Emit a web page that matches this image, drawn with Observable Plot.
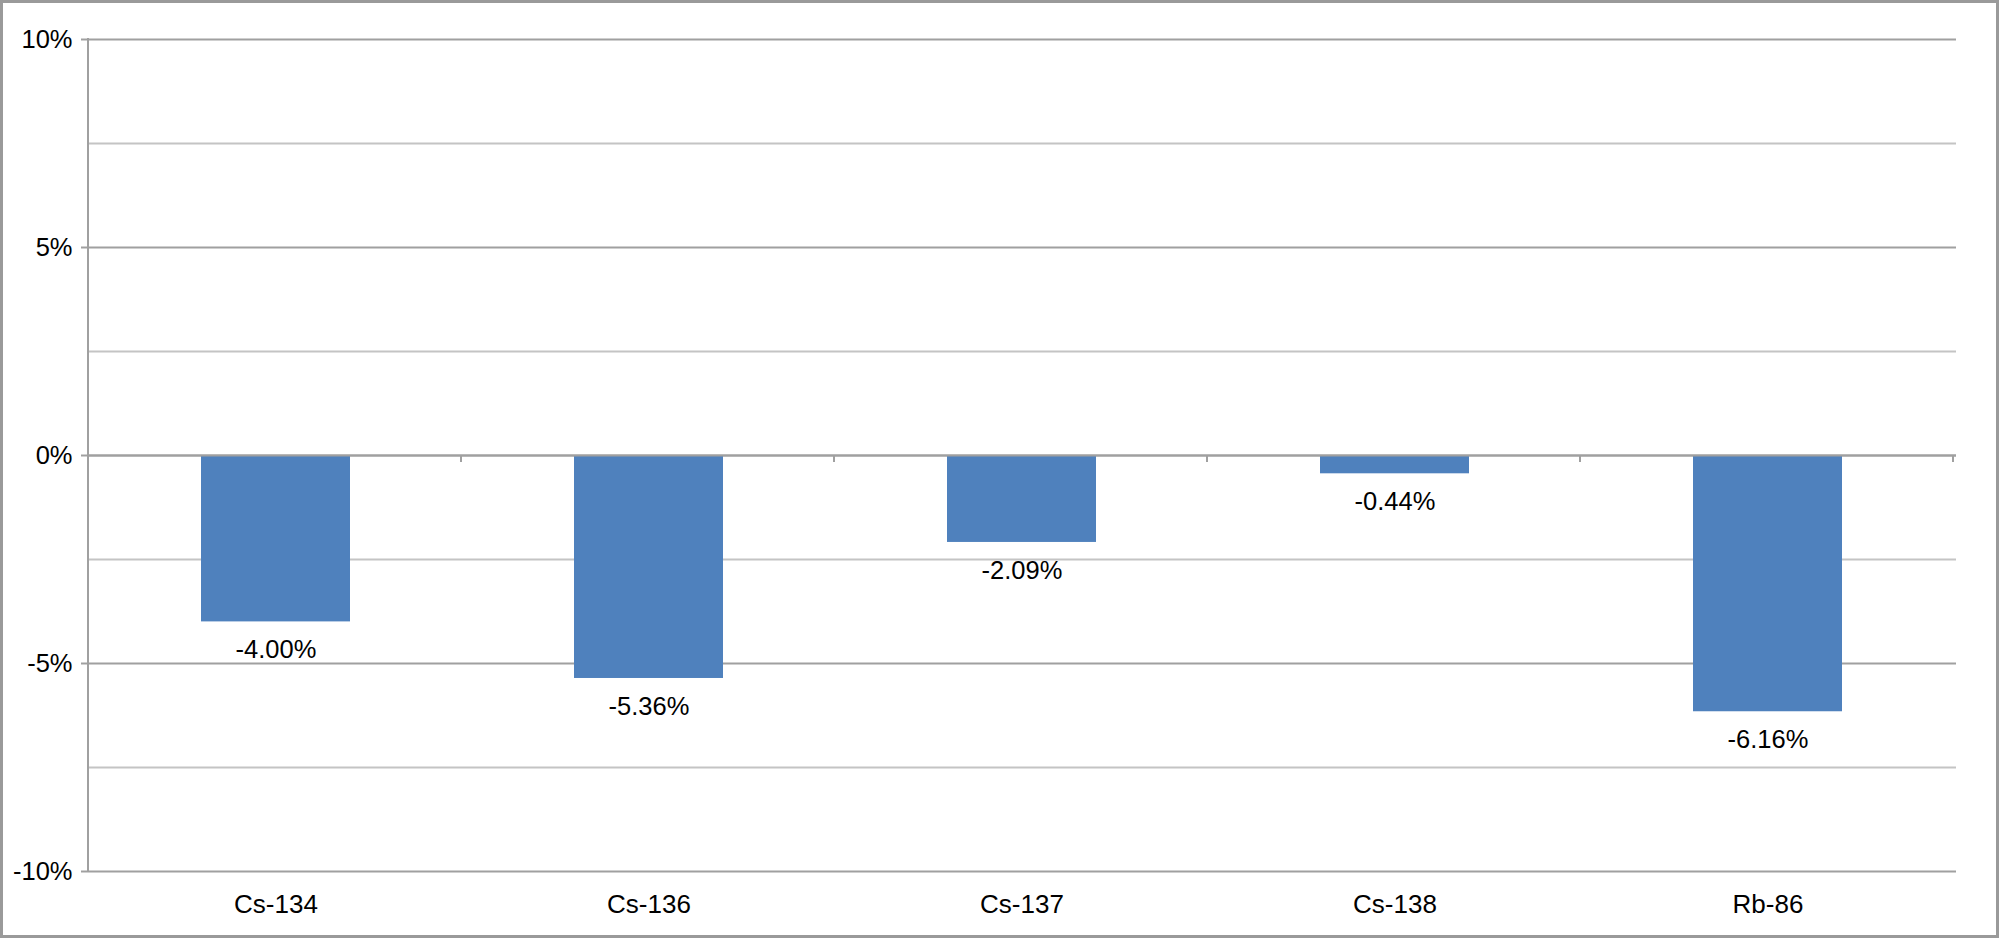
<!DOCTYPE html>
<html>
<head>
<meta charset="utf-8">
<script src="https://cdn.jsdelivr.net/npm/d3@7"></script>
<script src="https://cdn.jsdelivr.net/npm/@observablehq/plot@0.6"></script>
<style>
  html, body { margin: 0; padding: 0; background: #fff; }
  #chart { position: relative; width: 2000px; height: 939px; }
  #chart svg { display: block; }
</style>
</head>
<body>
<div id="chart"></div>
<script>
const isotopes = ["Cs-134", "Cs-136", "Cs-137", "Cs-138", "Rb-86"];
const changes = [-0.0400, -0.0536, -0.0209, -0.0044, -0.0616];
const majorTicks = [-0.10, -0.05, 0, 0.05, 0.10];
const minorTicks = [-0.075, -0.025, 0.025, 0.075];

const data = isotopes.map((name, i) => ({name, value: changes[i]}));
const W = 2000, H = 939;
const font = "'Liberation Sans', Arial, Helvetica, sans-serif";

const chart = Plot.plot({
  width: W,
  height: H,
  marginLeft: 88,
  marginRight: 44,
  marginTop: 39,
  marginBottom: 68,
  style: {fontFamily: font, fontSize: "26px", color: "#000", background: "#fff"},
  x: {domain: isotopes, paddingInner: 0.6, paddingOuter: 0.3, label: null},
  y: {domain: [-0.1, 0.1], label: null},
  marks: [
    Plot.ruleY(minorTicks, {stroke: "#c4c4c4", strokeWidth: 2}),
    Plot.ruleY(majorTicks, {stroke: "#a0a0a0", strokeWidth: 2}),
    Plot.barY(data, {x: "name", y: "value", fill: "#4f81bd"}),
    Plot.ruleY([0], {stroke: "#a0a0a0", strokeWidth: 2}),
    Plot.text(data, {x: "name", y: "value", text: d => (d.value * 100).toFixed(2) + "%", dy: 28, fill: "#000", fontSize: 25.5, style: "letter-spacing: 0.3px"}),
    Plot.axisY({ticks: majorTicks, tickFormat: d => Math.round(d * 100) + "%", tickSize: 7, tickPadding: 9, stroke: "#a0a0a0", strokeWidth: 2, fontSize: 25.5, label: null}),
    Plot.axisX({tickSize: 0, tickPadding: 23, fontSize: 26, label: null})
  ]
});

document.getElementById("chart").appendChild(chart);

// decorations derived from the plot's own scales
const xs = chart.scale("x");
const ys = chart.scale("y");
const svg = d3.select(chart);
const y0 = ys.apply(0);
const yTop = ys.apply(0.1), yBot = ys.apply(-0.1);
const x0 = xs.range[0];
const boundaries = d3.range(isotopes.length + 1).map(i => x0 + i * xs.step);
// left axis line
svg.append("line").attr("x1", x0).attr("x2", x0).attr("y1", yTop - 1).attr("y2", yBot + 1)
  .attr("stroke", "#a0a0a0").attr("stroke-width", 2);
// category tick marks below zero line
svg.append("g").selectAll("line").data(boundaries.slice(1)).join("line")
  .attr("x1", d => d).attr("x2", d => d).attr("y1", y0).attr("y2", y0 + 7)
  .attr("stroke", "#a0a0a0").attr("stroke-width", 2);
// outer border
svg.append("rect").attr("x", 1.5).attr("y", 1.5).attr("width", W - 4).attr("height", H - 4)
  .attr("fill", "none").attr("stroke", "#9a9a9a").attr("stroke-width", 3);
</script>
</body>
</html>
